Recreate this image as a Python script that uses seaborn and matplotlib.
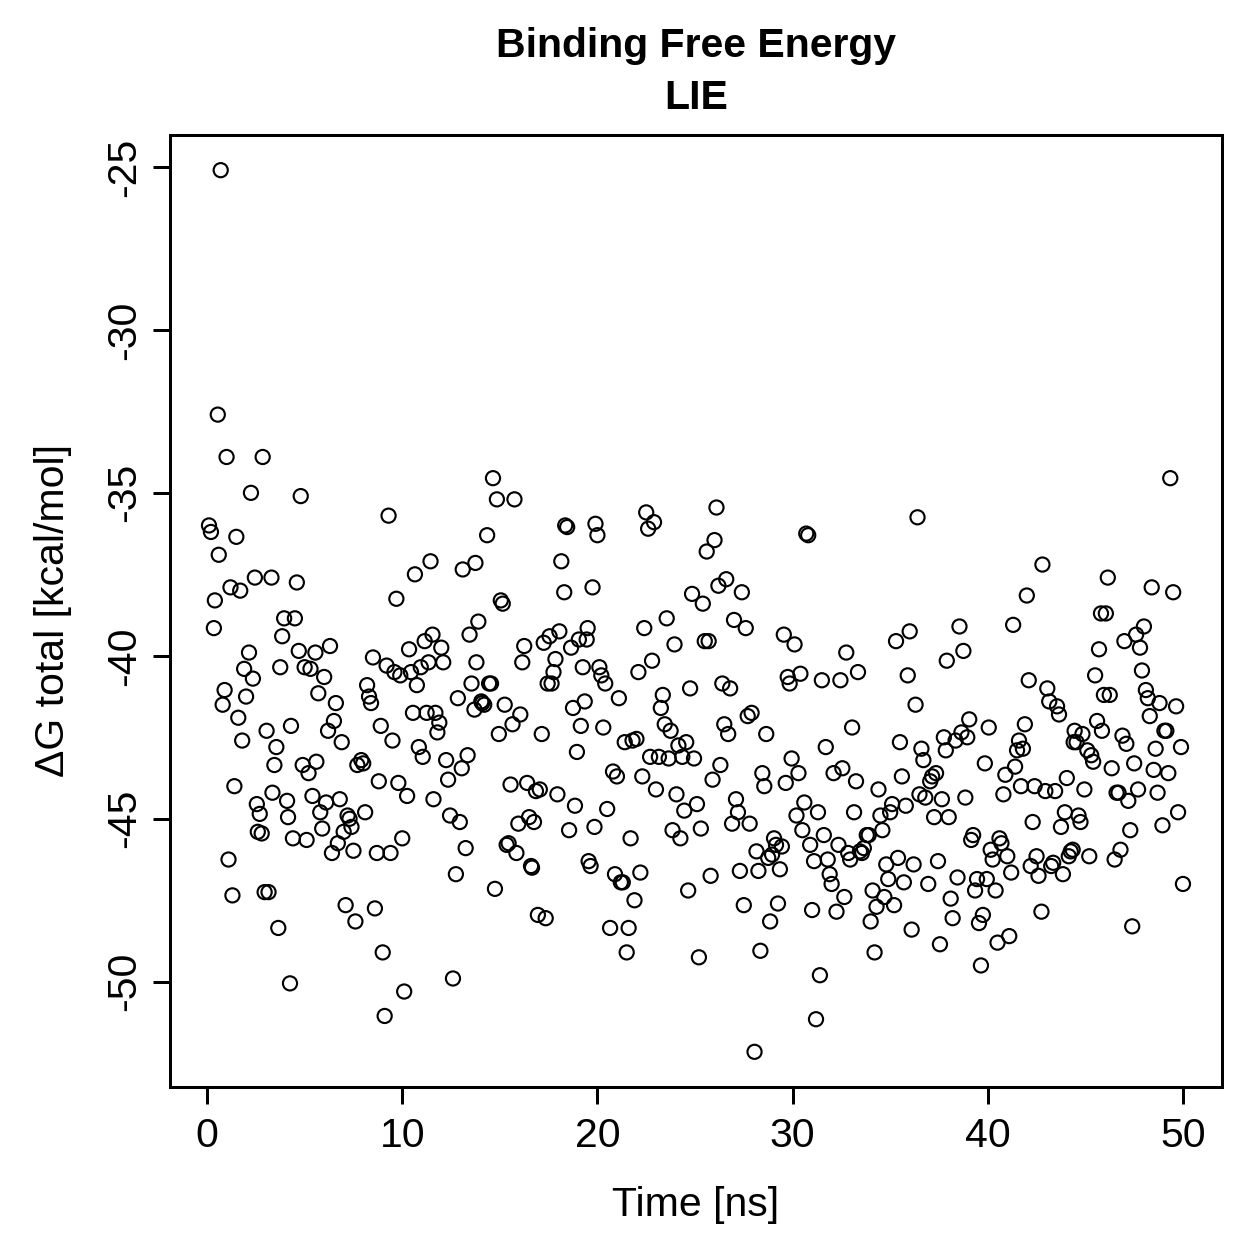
import numpy as np
import pandas as pd
import matplotlib
matplotlib.use("Agg")
import matplotlib.pyplot as plt
import seaborn as sns

# values (time in ns, dG in kcal/mol)
time_ns = [
    0.1, 0.2, 0.35, 0.4, 0.55, 0.6, 0.7, 0.8, 0.9, 1.0,
    1.1, 1.2, 1.3, 1.4, 1.5, 1.6, 1.7, 1.8, 1.9, 2.0,
    2.15, 2.25, 2.35, 2.45, 2.55, 2.6, 2.7, 2.8, 2.85, 2.95,
    3.05, 3.15, 3.3, 3.35, 3.45, 3.55, 3.65, 3.75, 3.85, 3.95,
    4.1, 4.15, 4.25, 4.3, 4.4, 4.5, 4.6, 4.7, 4.8, 4.9,
    5.0,
    5.1, 5.2, 5.3, 5.4, 5.55, 5.6, 5.7, 5.8, 5.9, 6.0,
    6.1, 6.2, 6.3, 6.4, 6.5, 6.6, 6.7, 6.8, 6.9, 7.0,
    7.1, 7.2, 7.3, 7.4, 7.5, 7.6, 7.7, 7.9, 8.0, 8.1,
    8.2, 8.3, 8.4, 8.5, 8.6, 8.7, 8.8, 8.9, 9.0, 9.1,
    9.2, 9.3, 9.4, 9.5, 9.6, 9.7, 9.8, 9.9, 10.0,
    10.1, 10.25, 10.35, 10.45, 10.55, 10.65, 10.75, 10.85, 10.95, 11.05,
    11.15, 11.25, 11.35, 11.45, 11.55, 11.6, 11.7, 11.8, 11.9, 12.0,
    12.1, 12.25, 12.35, 12.45, 12.6, 12.75, 12.85, 12.95, 13.05, 13.1,
    13.25, 13.35, 13.45, 13.55, 13.7, 13.75, 13.8, 13.9, 14.05, 14.1,
    14.2, 14.35, 14.45, 14.55, 14.65, 14.75, 14.85, 14.95,
    15.05, 15.15, 15.25, 15.35, 15.45, 15.55, 15.65, 15.75, 15.85, 15.95,
    16.05, 16.15, 16.25, 16.4, 16.5, 16.6, 16.65, 16.75, 16.85, 16.95,
    17.05, 17.15, 17.25, 17.35, 17.45, 17.55, 17.65, 17.75, 17.85, 17.95,
    18.05, 18.15, 18.3, 18.35, 18.45, 18.55, 18.65, 18.75, 18.85, 18.95,
    19.05, 19.15, 19.25, 19.35, 19.45, 19.5, 19.55, 19.65, 19.75, 19.85,
    19.9, 20.0,
    20.1, 20.2, 20.3, 20.4, 20.5, 20.65, 20.8, 20.9, 21.0, 21.1,
    21.2, 21.3, 21.4, 21.5, 21.6, 21.7, 21.8, 21.9, 22.0, 22.1,
    22.2, 22.3, 22.4, 22.5, 22.6, 22.7, 22.8, 22.9, 23.0, 23.15,
    23.25, 23.35, 23.45, 23.55, 23.65, 23.75, 23.85, 23.95, 24.05, 24.15,
    24.25, 24.35, 24.45, 24.55, 24.65, 24.75, 24.85, 24.95,
    25.1, 25.2, 25.3, 25.4, 25.5, 25.6, 25.7, 25.8, 25.9, 26.0,
    26.1, 26.2, 26.3, 26.4, 26.5, 26.6, 26.7, 26.8, 26.9, 27.0,
    27.1, 27.2, 27.3, 27.4, 27.5, 27.6, 27.7, 27.8, 27.9, 28.05,
    28.15, 28.25, 28.35, 28.45, 28.55, 28.65, 28.75, 28.85, 28.95, 29.05,
    29.15, 29.25, 29.35, 29.45, 29.55, 29.65, 29.75, 29.85, 29.95,
    30.1, 30.2, 30.3, 30.4, 30.5, 30.6, 30.7, 30.8, 30.9, 31.0,
    31.1, 31.2, 31.3, 31.4, 31.5, 31.6, 31.7, 31.8, 31.9, 32.0,
    32.1, 32.25, 32.35, 32.45, 32.55, 32.65, 32.75, 32.85, 32.95, 33.05,
    33.15, 33.25, 33.35, 33.45, 33.55, 33.65, 33.8, 33.9, 34.0, 34.1,
    34.2, 34.3, 34.4, 34.5, 34.6, 34.7, 34.8, 34.9, 35.0,
    35.1, 35.2, 35.3, 35.4, 35.5, 35.6, 35.7, 35.8, 35.9, 36.0,
    36.1, 36.2, 36.3, 36.4, 36.5, 36.6, 36.7, 36.8, 36.95, 37.05,
    37.15, 37.25, 37.35, 37.45, 37.55, 37.65, 37.75, 37.85, 37.9, 38.0,
    38.1, 38.2, 38.35, 38.45, 38.55, 38.65, 38.75, 38.85, 38.95, 39.05,
    39.15, 39.25, 39.35, 39.45, 39.55, 39.65, 39.75, 39.85, 39.95,
    40.05, 40.15, 40.25, 40.4, 40.5, 40.6, 40.7, 40.8, 40.9, 41.0,
    41.1, 41.2, 41.3, 41.4, 41.5, 41.6, 41.7, 41.8, 41.9, 42.0,
    42.1, 42.2, 42.3, 42.4, 42.5, 42.6, 42.75, 42.8, 42.95, 43.05,
    43.15, 43.25, 43.35, 43.45, 43.55, 43.65, 43.75, 43.85, 43.95, 44.05,
    44.15, 44.25, 44.35, 44.4, 44.45, 44.55, 44.65, 44.75, 44.85, 44.95,
    45.1, 45.2, 45.3, 45.4, 45.5, 45.6, 45.7, 45.8, 45.85, 45.95,
    46.05, 46.15, 46.25, 46.35, 46.5, 46.6, 46.7, 46.8, 46.9, 47.0,
    47.1, 47.2, 47.3, 47.4, 47.5, 47.6, 47.7, 47.8, 47.9, 48.0,
    48.1, 48.2, 48.3, 48.4, 48.5, 48.6, 48.7, 48.8, 48.95, 49.05,
    49.15, 49.25, 49.35, 49.5, 49.65, 49.75, 49.9, 50.0,
]

dg_total = [
    -36.0, -36.2, -39.15, -38.3, -32.6, -36.9, -25.1, -41.5, -41.05, -33.9,
    -46.25, -37.9, -47.35, -44.0, -36.35, -41.9, -38.0, -42.6, -40.4, -41.25,
    -39.9, -35.0, -40.7, -37.6, -44.55, -45.4, -44.85, -45.45, -33.9, -47.25,
    -42.3, -47.25, -37.6, -44.2, -43.35, -42.8, -48.35, -40.35, -39.4, -38.85,
    -44.45, -44.95, -50.05, -42.15, -45.6, -38.85, -37.75, -39.85, -35.1, -43.35,
    -40.35,
    -45.65, -43.6, -40.4, -44.3, -39.9, -43.25, -41.15, -44.8, -45.3, -40.65,
    -44.5, -42.3, -39.7, -46.05, -42.0, -41.45, -45.75, -44.4, -42.65, -45.4,
    -47.65, -44.9, -45.0, -45.25, -45.98, -48.15, -43.35, -43.2, -43.3, -44.8,
    -40.9, -41.25, -41.45, -40.05, -47.75, -46.05, -43.85, -42.15, -49.1, -51.05,
    -40.3, -35.7, -46.05, -42.6, -40.5, -38.25, -43.9, -40.6, -45.6,
    -50.3, -44.3, -39.8, -40.5, -41.75, -37.5, -40.9, -42.8, -40.35, -43.1,
    -39.55, -41.75, -40.2, -37.1, -39.35, -44.4, -41.75, -42.35, -42.05, -39.75,
    -40.2, -43.2, -43.8, -44.9, -49.9, -46.7, -41.3, -45.1, -43.45, -37.35,
    -45.9, -43.05, -39.35, -40.85, -41.65, -37.15, -40.2, -38.95, -41.4, -41.45,
    -41.5, -36.3, -40.85, -40.85, -34.55, -47.15, -35.2, -42.4,
    -38.3, -38.4, -41.5, -45.8, -45.75, -43.95, -42.1, -35.2, -46.05, -45.15,
    -41.8, -40.2, -39.7, -43.9, -44.95, -46.45, -46.5, -45.1, -44.15, -47.95,
    -44.1, -42.4, -39.6, -48.05, -40.85, -39.4, -40.85, -40.5, -40.1, -44.25,
    -39.25, -37.1, -38.05, -36.0, -36.05, -45.35, -39.75, -41.6, -44.6, -42.95,
    -39.5, -42.15, -40.35, -41.4, -39.5, -39.15, -46.3, -46.45, -37.9, -45.25,
    -35.95, -36.3,
    -40.35, -40.6, -42.2, -40.85, -44.7, -48.35, -43.55, -46.7, -43.7, -41.3,
    -46.95, -46.95, -42.65, -49.1, -48.35, -45.6, -42.6, -47.5, -42.55, -40.5,
    -46.65, -43.7, -39.15, -35.6, -36.1, -43.1, -40.15, -35.9, -44.1, -43.1,
    -41.6, -41.2, -42.1, -38.85, -43.15, -42.3, -45.35, -39.65, -44.25, -42.75,
    -45.6, -43.1, -44.75, -42.65, -47.2, -41.0, -38.1, -43.15,
    -44.55, -49.25, -45.3, -38.4, -39.55, -36.8, -39.55, -46.75, -43.8, -36.45,
    -35.45, -37.85, -43.35, -40.85, -42.1, -37.65, -42.4, -41.0, -45.15, -38.9,
    -44.4, -44.8, -46.6, -38.05, -47.65, -39.15, -41.85, -45.15, -41.75, -52.15,
    -46.0, -46.6, -49.05, -43.6, -44.0, -42.4, -46.2, -48.15, -46.1, -45.6,
    -45.8, -47.6, -46.55, -45.85, -39.35, -43.9, -40.65, -40.85, -43.15,
    -39.65, -44.9, -43.6, -40.55, -45.35, -44.5, -36.25, -36.3, -45.8, -47.8,
    -46.3, -51.15, -44.8, -49.8, -40.75, -45.5, -42.8, -46.25, -46.7, -47.0,
    -43.6, -47.85, -45.8, -40.75, -43.45, -47.4, -39.9, -46.05, -46.25, -42.2,
    -44.8, -43.85, -40.5, -46.0, -46.05, -45.9, -45.5, -45.5, -48.15, -47.2,
    -49.1, -47.7, -44.1, -44.9, -45.35, -47.4, -46.4, -46.85, -44.8,
    -44.55, -47.65, -39.55, -46.2, -42.65, -43.7, -46.95, -44.6, -40.6, -39.25,
    -48.4, -46.4, -41.5, -35.75, -44.25, -42.85, -43.2, -44.35, -47.0, -43.85,
    -43.7, -44.95, -43.6, -46.3, -48.85, -44.4, -42.5, -42.9, -40.15, -44.95,
    -47.45, -48.05, -42.6, -46.8, -39.1, -42.35, -39.85, -44.35, -42.5, -41.95,
    -45.65, -45.5, -47.2, -46.85, -48.2, -49.5, -47.95, -43.3, -46.85,
    -42.2, -45.95, -46.25, -47.2, -48.8, -45.6, -45.75, -44.25, -43.65, -46.15,
    -48.6, -46.65, -39.05, -43.4, -42.9, -42.6, -44.0, -42.85, -42.1, -38.15,
    -40.75, -46.45, -45.1, -44.0, -46.15, -46.75, -47.85, -37.2, -44.15, -41.0,
    -41.4, -46.45, -46.35, -44.15, -41.55, -41.8, -45.25, -46.7, -44.8, -43.75,
    -46.15, -46.0, -45.95, -42.65, -42.3, -42.65, -44.9, -45.1, -42.4, -44.1,
    -42.9, -46.15, -43.05, -43.25, -40.6, -42.0, -39.8, -38.7, -42.3, -41.2,
    -38.7, -37.6, -41.2, -43.45, -46.25, -44.2, -44.2, -45.95, -42.45, -39.55,
    -42.7, -44.45, -45.35, -48.3, -43.3, -39.35, -44.1, -39.75, -40.45, -39.1,
    -41.05, -41.3, -41.85, -37.9, -43.5, -42.85, -44.2, -41.45, -45.2, -42.3,
    -42.3, -43.6, -34.55, -38.05, -41.55, -44.8, -42.8, -47.0,
]

x_ticks = [0, 10, 20, 30, 40, 50]
y_ticks = [-25, -30, -35, -40, -45, -50]

df = pd.DataFrame({"time": time_ns, "dG": dg_total})

sns.set_style("ticks")
plt.rcParams["font.family"] = ["Liberation Sans", "DejaVu Sans"]
plt.rcParams["axes.unicode_minus"] = False
plt.rcParams["text.color"] = "black"
plt.rcParams["axes.labelcolor"] = "black"

fig = plt.figure(figsize=(1259 / 180, 1259 / 180), dpi=180)
ax = fig.add_axes([0.135, 0.1366, 0.9706 - 0.135, 0.8928 - 0.1366])

sns.scatterplot(data=df, x="time", y="dG", ax=ax, color="black",
                marker="o", s=32, linewidth=0.85, edgecolor="black")
ax.collections[0].set_facecolor("none")

ax.set_xlim(-1.9, 52.0)
ax.set_ylim(-53.23, -24.02)
ax.set_xticks(x_ticks)
ax.set_yticks(y_ticks)
ax.set_yticklabels([str(v) for v in y_ticks], rotation=90, va="center")

for sp in ax.spines.values():
    sp.set_visible(True)
    sp.set_linewidth(1.2)
    sp.set_color("black")

ax.tick_params(axis="both", length=6.8, width=1.2, color="black",
               labelsize=16.4, labelcolor="black")
ax.tick_params(axis="x", pad=5)
ax.tick_params(axis="y", pad=4)

ax.set_xlabel("Time [ns]", fontsize=16.4, labelpad=12.5, color="black")
ax.set_ylabel("ΔG total [kcal/mol]", fontsize=16.4, labelpad=13, color="black")
ax.set_title("Binding Free Energy\nLIE", fontsize=16.4, fontweight="bold",
             pad=10.5, linespacing=1.45, color="black")

fig.savefig("out.png", dpi=180)
